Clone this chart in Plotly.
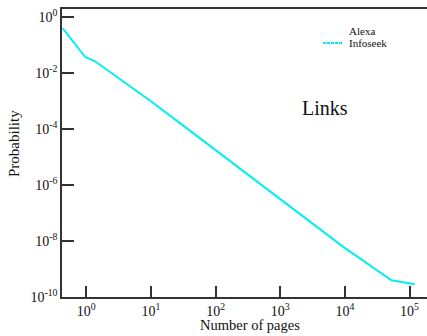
import plotly.graph_objects as go

# Link-count distribution (log10 of number of pages vs log10 probability)
log_pages = [-0.365, -0.02, 0.134, 0.47, 1.0, 1.5, 2.0, 2.5, 3.0, 3.5, 3.97, 4.72, 5.08]
log_prob = [-0.39, -1.41, -1.57, -2.13, -3.0, -3.87, -4.75, -5.62, -6.5, -7.37, -8.2, -9.40, -9.54]

pages = [10 ** v for v in log_pages]
prob = [10 ** v for v in log_prob]

x_tick_exp = [0, 1, 2, 3, 4, 5]
y_tick_exp = [0, -2, -4, -6, -8, -10]
legend_names = ["Alexa", "Infoseek"]

FONT = "Liberation Serif"
AXIS = "#333333"
TEXT = "#111111"
CYAN = "#00F0F0"

# Plot area in pixels, used to place the free-standing labels
L, R, T, B = 62, 427, 9, 297
W, H = R - L, B - T


def px(x, y):
    return (x - L) / W, (B - y) / H


fig = go.Figure()

fig.add_trace(go.Scatter(x=pages, y=prob, mode="lines", showlegend=False,
                         line=dict(color=CYAN, width=2)))

fig.update_xaxes(
    type="log", range=[-0.376, 5.27],
    tickvals=[10 ** e for e in x_tick_exp],
    ticktext=[f"10<sup>{e}</sup>" for e in x_tick_exp],
    ticks="inside", ticklen=11, tickwidth=1.5, tickcolor=AXIS,
    showline=True, linecolor=AXIS, linewidth=1.5, mirror=True,
    showgrid=False, zeroline=False,
    tickfont=dict(family=FONT, size=14, color=TEXT),
)
fig.update_yaxes(
    type="log", range=[-10, 0.3],
    tickvals=[10 ** e for e in y_tick_exp],
    ticktext=[f"10<sup>{e}</sup>" for e in y_tick_exp],
    ticks="inside", ticklen=12, tickwidth=1.5, tickcolor=AXIS,
    showline=True, linecolor=AXIS, linewidth=1.5, mirror=False,
    showgrid=False, zeroline=False,
    tickfont=dict(family=FONT, size=14, color=TEXT),
)

# Axis titles
x0, y0 = px(250, 325)
fig.add_annotation(text="Number of pages", xref="paper", yref="paper", x=x0, y=y0,
                   xanchor="center", yanchor="middle", showarrow=False,
                   font=dict(family=FONT, size=14.5, color=TEXT))
x0, y0 = px(14, 144)
fig.add_annotation(text="Probability", xref="paper", yref="paper", x=x0, y=y0,
                   xanchor="center", yanchor="middle", textangle=-90, showarrow=False,
                   font=dict(family=FONT, size=15, color=TEXT))

# Panel label
x0, y0 = px(325, 108)
fig.add_annotation(text="Links", xref="paper", yref="paper", x=x0, y=y0,
                   xanchor="center", yanchor="middle", showarrow=False,
                   font=dict(family=FONT, size=20, color=TEXT))

# Legend: text entries with a dashed sample beside the second one
for i, name in enumerate(legend_names):
    x0, y0 = px(347, 31 + 12 * i)
    fig.add_annotation(text=name, xref="paper", yref="paper", x=x0, y=y0,
                       xanchor="left", yanchor="middle", showarrow=False,
                       font=dict(family=FONT, size=11, color=TEXT))
xa, ya = px(323, 43)
xb, _ = px(342, 43)
fig.add_shape(type="line", xref="paper", yref="paper", x0=xa, x1=xb, y0=ya, y1=ya,
              line=dict(color=CYAN, width=2, dash="3px,1px"))

fig.update_layout(
    width=427, height=336,
    margin=dict(l=L, r=427 - R, t=T, b=336 - B, autoexpand=False),
    paper_bgcolor="white", plot_bgcolor="white",
    showlegend=False,
)

fig.write_html("out.html")
